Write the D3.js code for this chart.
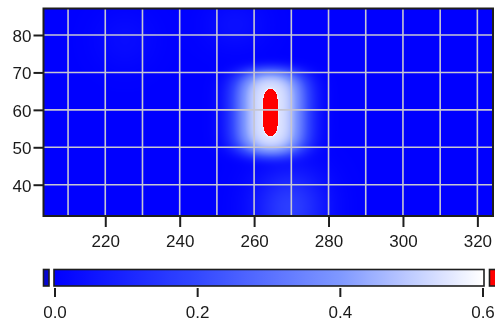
<!DOCTYPE html>
<html>
<head>
<meta charset="utf-8">
<script src="https://cdn.jsdelivr.net/npm/d3@7"></script>
<style>
  html, body { margin: 0; padding: 0; background: #fff; }
  #wrap { position: relative; width: 495px; height: 321px; overflow: hidden; }
  #wrap canvas, #wrap svg { position: absolute; left: 0; top: 0; }
  text { font-family: "Liberation Sans", Arial, sans-serif; font-size: 17px; fill: #1a1a1a; }
</style>
</head>
<body>
<div id="wrap"></div>
<script>
// Axis extents and ticks
const xExtent = [203.4, 324.2];
const yExtent = [31.64, 87.08];
const xTickValues = [220, 240, 260, 280, 300, 320];
const yTickValues = [40, 50, 60, 70, 80];
const xGridValues = [210, 220, 230, 240, 250, 260, 270, 280, 290, 300, 310, 320];
const yGridValues = [40, 50, 60, 70, 80];

// Colour scale (values above the top stop are drawn in the "over" colour)
const scaleStops = [0, 0.2, 0.4, 0.6];
const scaleColors = ["#0000ff", "#3348ff", "#7f98ff", "#ffffff"];
const scaleTickValues = [0, 0.2, 0.4, 0.6];
const scaleTickLabels = ["0.0", "0.2", "0.4", "0.6"];
const underColor = "#0606d2";
const overColor = "#ff0000";

// Intensity field: each component is amp * exp(-q^p),
// q = (dx/sx)^2 + (dy/sy)^ey
const peakX   = [264.4, 264.4, 269.6, 254.9, 225.3];
const peakY   = [59.3,  59.3,  34.0,  82.7,  78.7];
const peakSX  = [1.54,  10.1,  9.4,   8.0,   8.0];
const peakSY  = [5.5,   11.8,  10.0,  6.7,   8.0];
const peakAmp = [1.0,   0.55,  0.17,  0.04,  0.03];
const peakEY  = [4,     4.6,   2,     2,     2];
const peakP   = [2,     1.5,   1,     1,     1];

const W = 495, H = 321;
const plot = { left: 43.5, right: 493, top: 8.5, bottom: 216 };

const x = d3.scaleLinear().domain(xExtent).range([plot.left, plot.right]);
const y = d3.scaleLinear().domain(yExtent).range([plot.bottom, plot.top]);
const color = d3.scaleLinear().domain(scaleStops).range(scaleColors)
  .interpolate(d3.interpolateRgb).clamp(true);
const maxValue = scaleStops[scaleStops.length - 1];

function intensity(u, v) {
  let s = 0;
  for (let i = 0; i < peakX.length; i++) {
    const dx = Math.abs(u - peakX[i]) / peakSX[i];
    const dy = Math.abs(v - peakY[i]) / peakSY[i];
    const q = dx * dx + Math.pow(dy, peakEY[i]);
    s += peakAmp[i] * Math.exp(-Math.pow(q, peakP[i]));
  }
  return s;
}

const wrap = d3.select("#wrap");

// Heat map raster, one cell per screen pixel
const canvas = wrap.append("canvas").attr("width", W).attr("height", H);
const ctx = canvas.node().getContext("2d");
const px0 = Math.floor(plot.left), px1 = Math.ceil(plot.right);
const py0 = Math.floor(plot.top), py1 = Math.ceil(plot.bottom);
const img = ctx.createImageData(px1 - px0, py1 - py0);
const over = d3.rgb(overColor);
for (let py = py0; py < py1; py++) {
  for (let px = px0; px < px1; px++) {
    const val = intensity(x.invert(px + 0.5), y.invert(py + 0.5));
    const c = val > maxValue ? over : d3.rgb(color(val));
    const k = ((py - py0) * (px1 - px0) + (px - px0)) * 4;
    img.data[k] = c.r; img.data[k + 1] = c.g; img.data[k + 2] = c.b; img.data[k + 3] = 255;
  }
}
ctx.putImageData(img, px0, py0);

const svg = wrap.append("svg").attr("width", W).attr("height", H);

// Grid
const grid = svg.append("g").attr("stroke", "#c6c6d2").attr("stroke-width", 1.6);
grid.selectAll("line.v").data(xGridValues).join("line").attr("class", "v")
  .attr("x1", d => x(d)).attr("x2", d => x(d))
  .attr("y1", plot.top).attr("y2", plot.bottom);
grid.selectAll("line.h").data(yGridValues).join("line").attr("class", "h")
  .attr("x1", plot.left).attr("x2", plot.right)
  .attr("y1", d => y(d)).attr("y2", d => y(d));

// Frame
svg.append("rect")
  .attr("x", plot.left).attr("y", plot.top)
  .attr("width", plot.right - plot.left).attr("height", plot.bottom - plot.top)
  .attr("fill", "none").attr("stroke", "#1e1e1e").attr("stroke-width", 2);

function styleAxis(g) {
  g.select(".domain").remove();
  g.selectAll(".tick line").attr("stroke", "#1e1e1e").attr("stroke-width", 2);
  g.selectAll(".tick text").attr("fill", "#1a1a1a")
    .style("font-family", '"Liberation Sans", Arial, sans-serif').style("font-size", "17px");
}

svg.append("g").attr("transform", `translate(0,${plot.bottom})`)
  .call(d3.axisBottom(x).tickValues(xTickValues).tickFormat(d3.format("d")).tickSize(11).tickPadding(8))
  .call(styleAxis);

svg.append("g").attr("transform", `translate(${plot.left},0)`)
  .call(d3.axisLeft(y).tickValues(yTickValues).tickFormat(d3.format("d")).tickSize(10).tickPadding(2))
  .call(styleAxis)
  .call(g => g.selectAll(".tick text").attr("dy", "0.38em"));

// Colour bar
const cb = d3.scaleLinear().domain([scaleStops[0], maxValue]).range([54.5, 482.5]);
const barTop = 269.5, barBottom = 286;
const defs = svg.append("defs");
const grad = defs.append("linearGradient").attr("id", "cbar")
  .attr("gradientUnits", "userSpaceOnUse")
  .attr("x1", cb(scaleStops[0])).attr("x2", cb(maxValue)).attr("y1", 0).attr("y2", 0);
grad.selectAll("stop").data(d3.range(0, 61).map(i => i / 60 * maxValue)).join("stop")
  .attr("offset", d => d / maxValue).attr("stop-color", d => color(d));

svg.append("rect").attr("x", 54).attr("y", barTop).attr("width", 430).attr("height", barBottom - barTop)
  .attr("fill", "url(#cbar)").attr("stroke", "#1e1e1e").attr("stroke-width", 1.6);
svg.append("rect").attr("x", 43.5).attr("y", barTop).attr("width", 5.5).attr("height", barBottom - barTop)
  .attr("fill", underColor).attr("stroke", "#1e1e1e").attr("stroke-width", 1.6);
svg.append("rect").attr("x", 489.5).attr("y", barTop).attr("width", 8).attr("height", barBottom - barTop)
  .attr("fill", overColor).attr("stroke", "#1e1e1e").attr("stroke-width", 1.6);

svg.append("g").attr("transform", "translate(0,288)")
  .call(d3.axisBottom(cb).tickValues(scaleTickValues)
    .tickFormat((d, i) => scaleTickLabels[i]).tickSize(9).tickPadding(9))
  .call(styleAxis);
</script>
</body>
</html>
